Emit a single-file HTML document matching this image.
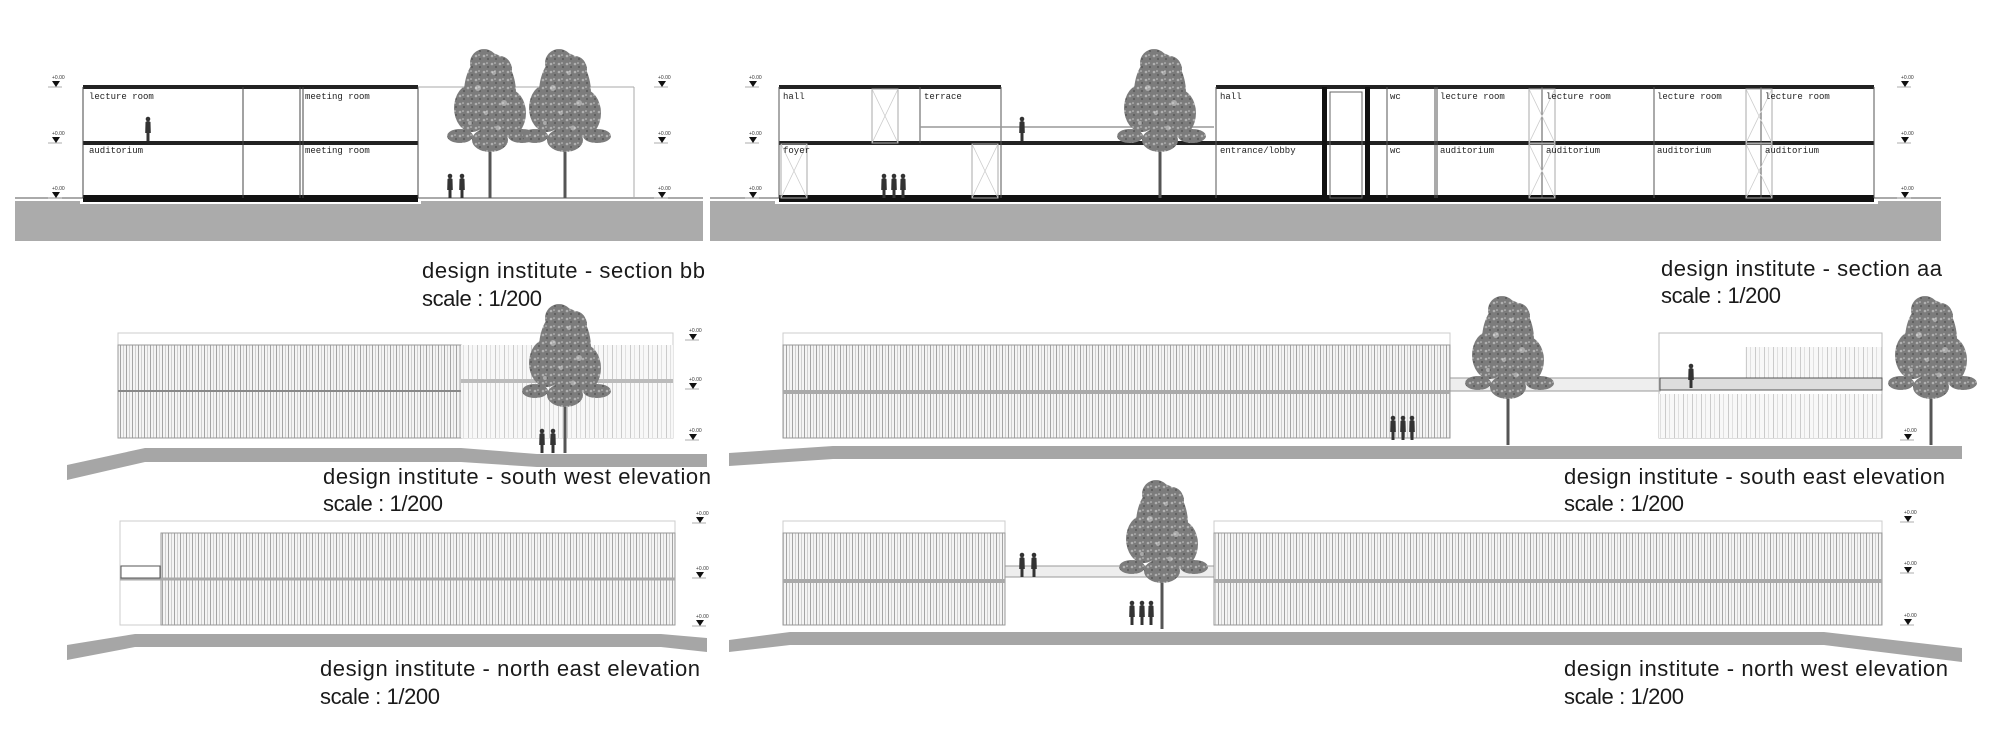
<!DOCTYPE html>
<html><head><meta charset="utf-8"><style>
html,body{margin:0;padding:0;background:#fff;}
svg{display:block;}
.lbl{font-family:"Liberation Sans",sans-serif;font-size:22px;fill:#1a1a1a;}
.rm{font-family:"Liberation Mono",monospace;font-size:9px;fill:#222;}
.lv{font-family:"Liberation Sans",sans-serif;font-size:5px;fill:#333;}
</style></head><body>
<svg width="2000" height="738" viewBox="0 0 2000 738" xmlns="http://www.w3.org/2000/svg">
<defs>
<pattern id="lou" width="6" height="10" patternUnits="userSpaceOnUse">
<rect width="6" height="10" fill="#f4f4f4"/>
<rect x="0" width="1" height="10" fill="#a4a4a4"/>
<rect x="3" width="1" height="10" fill="#cfcfcf"/>
</pattern>
<pattern id="lou2" width="9" height="10" patternUnits="userSpaceOnUse">
<rect width="9" height="10" fill="#f8f8f8"/>
<rect x="0" width="1" height="10" fill="#cbcbcb"/>
<rect x="4" width="1" height="10" fill="#e0e0e0"/>
</pattern>
<pattern id="leaf" width="8" height="8" patternUnits="userSpaceOnUse">
<rect width="8" height="8" fill="#7c7c7c"/>
<circle cx="2" cy="2" r="1.3" fill="#b0b0b0"/><circle cx="6" cy="5" r="1.1" fill="#5e5e5e"/><circle cx="5" cy="1" r="0.8" fill="#c8c8c8"/>
</pattern>
<g id="tree">
<rect x="-1.5" y="-70" width="3" height="70" fill="#555"/>
<g fill="url(#leaf)">
<ellipse cx="0" cy="-105" rx="26" ry="40"/>
<ellipse cx="-18" cy="-90" rx="18" ry="24"/>
<ellipse cx="18" cy="-85" rx="18" ry="24"/>
<ellipse cx="-30" cy="-62" rx="13" ry="7"/>
<ellipse cx="32" cy="-62" rx="14" ry="7"/>
<ellipse cx="0" cy="-58" rx="18" ry="12"/>
<ellipse cx="-6" cy="-135" rx="14" ry="14"/>
<ellipse cx="10" cy="-128" rx="12" ry="14"/>
</g>
<g fill="#fff" opacity="0.35">
<circle cx="-12" cy="-110" r="3"/><circle cx="14" cy="-95" r="3"/><circle cx="-20" cy="-75" r="2"/><circle cx="8" cy="-70" r="2.5"/><circle cx="4" cy="-125" r="2"/><circle cx="-4" cy="-85" r="2"/>
</g>
</g>
<g id="mark">
<line x1="-8" y1="0" x2="6" y2="0" stroke="#999" stroke-width="0.8"/>
<polygon points="-4,-6 4,-6 0,0" fill="#111"/>
<text x="-4" y="-8" class="lv">+0.00</text>
</g>
<g id="pp">
<path d="M-2.5 -19 Q0 -21 2.5 -19 L2.8 -8 L1.5 -8 L1.5 0 L-1.5 0 L-1.5 -8 L-2.8 -8 Z" fill="#333"/><circle cx="0" cy="-22" r="2.3" fill="#333"/>
</g>
<g id="door"><rect x="0" y="0" width="26" height="54" fill="none" stroke="#aaa" stroke-width="1"/><path d="M0 0 L26 54 M26 0 L0 54" stroke="#ccc" stroke-width="0.8"/></g>
</defs>

<!-- ===== SECTION BB ===== -->
<rect x="15" y="201" width="688" height="40" fill="#ababab"/>
<rect x="80" y="199" width="341" height="5" fill="#fff"/>
<line x1="15" y1="198" x2="703" y2="198" stroke="#555" stroke-width="1"/>
<rect x="83" y="85" width="335" height="4" fill="#222"/>
<rect x="83" y="141" width="335" height="4" fill="#222"/>
<rect x="83" y="195" width="335" height="7" fill="#111"/>
<g stroke="#444" stroke-width="1"><line x1="83" y1="87" x2="83" y2="198"/><line x1="243" y1="87" x2="243" y2="198"/><line x1="300" y1="87" x2="300" y2="198"/><line x1="303" y1="87" x2="303" y2="198"/><line x1="418" y1="87" x2="418" y2="198"/></g>
<g stroke="#aaa" stroke-width="1"><line x1="418" y1="87" x2="634" y2="87"/><line x1="634" y1="87" x2="634" y2="198"/></g>
<text x="89" y="99" class="rm">lecture room</text><text x="305" y="99" class="rm">meeting room</text>
<text x="89" y="153" class="rm">auditorium</text><text x="305" y="153" class="rm">meeting room</text>
<use href="#pp" x="148" y="141"/>
<use href="#tree" x="490" y="198"/><use href="#tree" x="565" y="198"/>
<use href="#pp" x="450" y="198"/><use href="#pp" x="462" y="198"/>
<use href="#mark" x="56" y="87"/><use href="#mark" x="56" y="143"/><use href="#mark" x="56" y="198"/>
<use href="#mark" x="662" y="87"/><use href="#mark" x="662" y="143"/><use href="#mark" x="662" y="198"/>
<text x="422" y="278" class="lbl" textLength="283">design institute - section bb</text>
<text x="422" y="306" class="lbl" textLength="120">scale : 1/200</text>

<!-- ===== SECTION AA ===== -->
<rect x="710" y="201" width="1231" height="40" fill="#ababab"/>
<rect x="775" y="199" width="1103" height="5" fill="#fff"/>
<line x1="710" y1="198" x2="1941" y2="198" stroke="#555" stroke-width="1"/>
<rect x="779" y="85" width="222" height="4" fill="#222"/>
<rect x="1216" y="85" width="658" height="4" fill="#222"/>
<rect x="779" y="141" width="1095" height="4" fill="#222"/>
<rect x="779" y="195" width="1095" height="7" fill="#111"/>
<g stroke="#555" stroke-width="1"><line x1="779" y1="87" x2="779" y2="198"/><line x1="1001" y1="87" x2="1001" y2="198"/><line x1="920" y1="87" x2="920" y2="143"/><line x1="1216" y1="87" x2="1216" y2="198"/><line x1="1387" y1="87" x2="1387" y2="198"/><line x1="1435" y1="87" x2="1435" y2="198"/><line x1="1437" y1="87" x2="1437" y2="198"/><line x1="1542" y1="87" x2="1542" y2="198"/><line x1="1654" y1="87" x2="1654" y2="198"/><line x1="1761" y1="87" x2="1761" y2="198"/><line x1="1874" y1="87" x2="1874" y2="198"/></g>
<rect x="1322" y="87" width="5" height="111" fill="#111"/><rect x="1365" y="87" width="5" height="111" fill="#111"/>
<rect x="1330" y="92" width="32" height="106" fill="none" stroke="#666"/>
<line x1="920" y1="127" x2="1214" y2="127" stroke="#999" stroke-width="1.5"/>
<use href="#door" x="872" y="89"/><use href="#door" x="1529" y="89"/><use href="#door" x="1746" y="89"/>
<use href="#door" x="781" y="144"/><use href="#door" x="972" y="144"/><use href="#door" x="1529" y="144"/><use href="#door" x="1746" y="144"/>
<text x="783" y="99" class="rm">hall</text><text x="924" y="99" class="rm">terrace</text><text x="1220" y="99" class="rm">hall</text><text x="1390" y="99" class="rm">wc</text>
<text x="1440" y="99" class="rm">lecture room</text><text x="1546" y="99" class="rm">lecture room</text><text x="1657" y="99" class="rm">lecture room</text><text x="1765" y="99" class="rm">lecture room</text>
<text x="783" y="153" class="rm">foyer</text><text x="1220" y="153" class="rm">entrance/lobby</text><text x="1390" y="153" class="rm">wc</text>
<text x="1440" y="153" class="rm">auditorium</text><text x="1546" y="153" class="rm">auditorium</text><text x="1657" y="153" class="rm">auditorium</text><text x="1765" y="153" class="rm">auditorium</text>
<use href="#pp" x="1022" y="141"/>
<use href="#pp" x="884" y="198"/><use href="#pp" x="894" y="198"/><use href="#pp" x="903" y="198"/>
<use href="#tree" x="1160" y="198"/>
<use href="#mark" x="753" y="87"/><use href="#mark" x="753" y="143"/><use href="#mark" x="753" y="198"/>
<use href="#mark" x="1905" y="87"/><use href="#mark" x="1905" y="143"/><use href="#mark" x="1905" y="198"/>
<text x="1661" y="276" class="lbl" textLength="281">design institute - section aa</text>
<text x="1661" y="303" class="lbl" textLength="120">scale : 1/200</text>

<!-- ===== SOUTH WEST ELEVATION ===== -->
<rect x="118" y="333" width="555" height="105" fill="none" stroke="#ccc"/>
<rect x="118" y="345" width="343" height="93" fill="url(#lou)" stroke="#999"/>
<rect x="461" y="345" width="212" height="93" fill="url(#lou2)"/>
<line x1="118" y1="391" x2="461" y2="391" stroke="#888" stroke-width="2"/>
<line x1="461" y1="381" x2="673" y2="381" stroke="#bbb" stroke-width="4"/>
<polygon points="67,465 145,448 461,448 537,454 707,454 707,467 537,467 461,462 145,462 67,480" fill="#a6a6a6"/>
<use href="#tree" x="565" y="453"/>
<use href="#pp" x="542" y="453"/><use href="#pp" x="553" y="453"/>
<use href="#mark" x="693" y="340"/><use href="#mark" x="693" y="389"/><use href="#mark" x="693" y="440"/>
<text x="323" y="484" class="lbl" textLength="388">design institute - south west elevation</text>
<text x="323" y="511" class="lbl" textLength="120">scale : 1/200</text>

<!-- ===== SOUTH EAST ELEVATION ===== -->
<rect x="783" y="333" width="667" height="105" fill="none" stroke="#ccc"/>
<rect x="783" y="345" width="667" height="93" fill="url(#lou)" stroke="#999"/>
<line x1="783" y1="392" x2="1450" y2="392" stroke="#aaa" stroke-width="4"/>
<rect x="1450" y="378" width="210" height="13" fill="#eee" stroke="#999"/>
<rect x="1659" y="333" width="223" height="105" fill="none" stroke="#bbb"/>
<rect x="1745" y="347" width="137" height="31" fill="url(#lou2)"/>
<rect x="1660" y="378" width="222" height="12" fill="#ddd" stroke="#555"/>
<rect x="1659" y="394" width="223" height="44" fill="url(#lou2)"/>
<polygon points="729,453 833,446 1962,446 1962,459 833,459 729,466" fill="#a6a6a6"/>
<use href="#tree" x="1508" y="445"/><use href="#tree" x="1931" y="445"/>
<use href="#pp" x="1393" y="440"/><use href="#pp" x="1403" y="440"/><use href="#pp" x="1412" y="440"/>
<use href="#pp" x="1691" y="388"/>
<use href="#mark" x="1908" y="440"/>
<text x="1564" y="484" class="lbl" textLength="381">design institute - south east elevation</text>
<text x="1564" y="511" class="lbl" textLength="120">scale : 1/200</text>

<!-- ===== NORTH EAST ELEVATION ===== -->
<rect x="120" y="521" width="555" height="104" fill="none" stroke="#ccc"/>
<rect x="161" y="533" width="514" height="92" fill="url(#lou)" stroke="#999"/>
<line x1="120" y1="579" x2="675" y2="579" stroke="#aaa" stroke-width="3"/>
<rect x="121" y="566" width="39" height="12" fill="none" stroke="#555"/>
<polygon points="67,645 135,634 661,634 707,638 707,652 661,647 135,647 67,660" fill="#a6a6a6"/>
<use href="#mark" x="700" y="523"/><use href="#mark" x="700" y="578"/><use href="#mark" x="700" y="626"/>
<text x="320" y="676" class="lbl" textLength="380">design institute - north east elevation</text>
<text x="320" y="704" class="lbl" textLength="120">scale : 1/200</text>

<!-- ===== NORTH WEST ELEVATION ===== -->
<rect x="783" y="521" width="222" height="104" fill="none" stroke="#ccc"/>
<rect x="783" y="533" width="222" height="92" fill="url(#lou)" stroke="#999"/>
<line x1="783" y1="581" x2="1005" y2="581" stroke="#aaa" stroke-width="4"/>
<rect x="1005" y="566" width="209" height="11" fill="#eee" stroke="#999"/>
<rect x="1214" y="521" width="668" height="104" fill="none" stroke="#ccc"/>
<rect x="1214" y="533" width="668" height="92" fill="url(#lou)" stroke="#999"/>
<line x1="1214" y1="581" x2="1882" y2="581" stroke="#aaa" stroke-width="4"/>
<polygon points="729,640 790,632 1824,632 1962,648 1962,662 1824,645 790,645 729,652" fill="#a6a6a6"/>
<use href="#tree" x="1162" y="629"/>
<use href="#pp" x="1132" y="625"/><use href="#pp" x="1142" y="625"/><use href="#pp" x="1151" y="625"/>
<use href="#pp" x="1022" y="577"/><use href="#pp" x="1034" y="577"/>
<use href="#mark" x="1908" y="522"/><use href="#mark" x="1908" y="573"/><use href="#mark" x="1908" y="625"/>
<text x="1564" y="676" class="lbl" textLength="384">design institute - north west elevation</text>
<text x="1564" y="704" class="lbl" textLength="120">scale : 1/200</text>
</svg>
</body></html>
